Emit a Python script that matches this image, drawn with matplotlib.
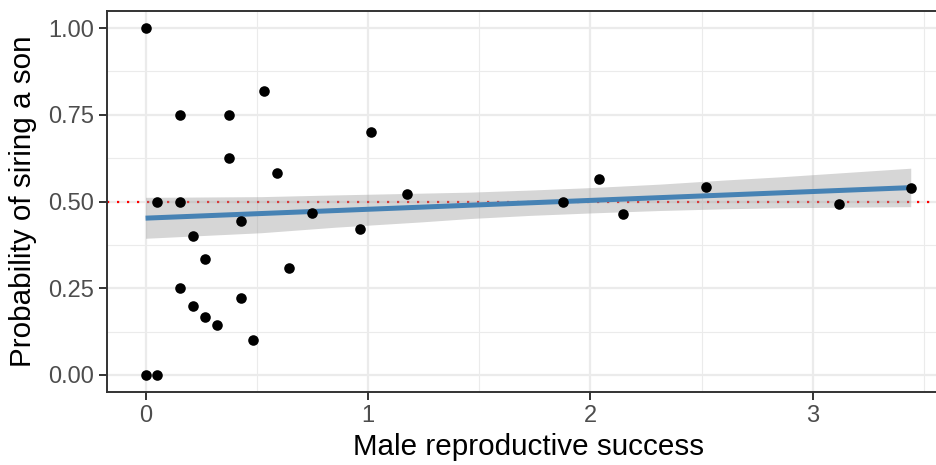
import numpy as np
import matplotlib.pyplot as plt

# values
male_rs = [0.0, 0.0, 0.052, 0.052, 0.157, 0.157, 0.157, 0.215, 0.215, 0.267,
           0.267, 0.321, 0.376, 0.376, 0.429, 0.429, 0.483, 0.531, 0.589, 0.643,
           0.747, 0.964, 1.013, 1.175, 1.877, 2.04, 2.148, 2.52, 3.118, 3.44]
p_son = [1.0, 0.0, 0.0, 0.5, 0.75, 0.5, 0.25, 0.40, 0.20, 0.333,
         0.167, 0.143, 0.75, 0.625, 0.444, 0.222, 0.10, 0.818, 0.583, 0.308,
         0.467, 0.421, 0.70, 0.522, 0.50, 0.564, 0.463, 0.542, 0.492, 0.538]

# fitted line and its confidence band
fit_x = [0.0, 3.44]
fit_y = [0.452, 0.540]
band_x = [0.0, 0.52, 0.855, 1.235, 1.46, 1.73, 2.0, 2.31, 2.605, 2.85, 3.44]
band_hi = [0.512, 0.514, 0.519, 0.524, 0.527, 0.533, 0.540, 0.550, 0.562, 0.571, 0.596]
band_lo = [0.394, 0.410, 0.426, 0.441, 0.451, 0.460, 0.467, 0.474, 0.479, 0.482, 0.485]

x_ticks = [0, 1, 2, 3]
y_ticks = [0.0, 0.25, 0.5, 0.75, 1.0]
ref_level = 0.5


def main():
    x = np.array(male_rs)
    y = np.array(p_son)

    plt.rcParams['font.family'] = ['Liberation Sans', 'DejaVu Sans']
    fig = plt.figure(figsize=(9.36, 4.65), dpi=100)
    # panel runs a little past the right edge, as in the reference
    ax = fig.add_axes([107.3 / 936, (465 - 392.3) / 465,
                       (949 - 107.3) / 936, (392.3 - 10.7) / 465])

    ax.scatter(x, y, s=58, color='black', zorder=3, linewidths=0)
    ax.axhline(ref_level, color='red', linestyle=(0, (1, 3.5)), linewidth=1.6, zorder=2)
    ax.fill_between(band_x, band_lo, band_hi, color='#999999', alpha=0.4,
                    linewidth=0, zorder=2.5)
    ax.plot(fit_x, fit_y, color='#4682B4', linewidth=3.6, zorder=2.6,
            solid_capstyle='butt')

    xpad = 0.05 * (x.max() - x.min())
    ax.set_xlim(x.min() - xpad, x.max() + xpad)
    ax.set_ylim(-0.05, 1.05)
    ax.set_xticks(x_ticks)
    ax.set_xticks([0.5, 1.5, 2.5, 3.5], minor=True)
    ax.set_yticks(y_ticks)
    ax.set_yticklabels([f'{v:.2f}' for v in y_ticks])
    ax.set_yticks([0.125, 0.375, 0.625, 0.875], minor=True)

    ax.grid(which='major', color='#EBEBEB', linewidth=1.6, zorder=0)
    ax.grid(which='minor', color='#EBEBEB', linewidth=0.8, zorder=0)
    ax.set_axisbelow(True)
    for sp in ax.spines.values():
        sp.set_color('#333333')
        sp.set_linewidth(1.4)
    ax.tick_params(which='major', length=5.8, width=1.4, color='#333333',
                   labelsize=17, labelcolor='#4D4D4D')
    ax.tick_params(axis='x', pad=3)
    ax.tick_params(axis='y', pad=4)
    ax.tick_params(which='minor', length=0)

    ax.set_xlabel('Male reproductive success', fontsize=21.3, labelpad=5)
    ax.set_ylabel('Probability of siring a son', fontsize=21.3, labelpad=8)

    fig.savefig('out.png', dpi=100)


if __name__ == '__main__':
    main()
